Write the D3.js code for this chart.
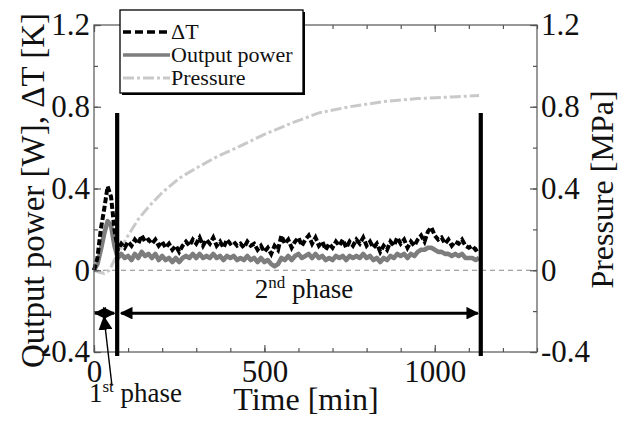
<!DOCTYPE html>
<html>
<head>
<meta charset="utf-8">
<script src="https://cdn.jsdelivr.net/npm/d3@7"></script>
<style>
  html, body { margin: 0; padding: 0; background: #fff; }
  svg { display: block; }
  text { font-family: "Liberation Serif", "Times New Roman", serif; fill: #111; }
</style>
</head>
<body>
<svg id="chart" width="621" height="425"></svg>
<script>
// Time axis: sampled every 10 min from 0 to 1130 min
const timeMin = d3.range(0, 1131, 10);

// Temperature difference ΔT [K]
const deltaT = [
  0.00, 0.06, 0.20, 0.30, 0.41, 0.36, 0.20, 0.10, 0.13, 0.11,
  0.14, 0.12, 0.15, 0.13, 0.17, 0.14, 0.15, 0.13, 0.15, 0.12,
  0.14, 0.11, 0.13, 0.10, 0.12, 0.09, 0.12, 0.14, 0.12, 0.15,
  0.13, 0.16, 0.12, 0.15, 0.13, 0.16, 0.12, 0.14, 0.11, 0.15,
  0.13, 0.14, 0.12, 0.13, 0.11, 0.14, 0.12, 0.13, 0.10, 0.12,
  0.09, 0.11, 0.08, 0.12, 0.10, 0.17, 0.13, 0.15, 0.11, 0.14,
  0.16, 0.12, 0.15, 0.17, 0.13, 0.16, 0.12, 0.14, 0.10, 0.13,
  0.11, 0.14, 0.12, 0.15, 0.11, 0.14, 0.12, 0.15, 0.13, 0.16,
  0.12, 0.14, 0.11, 0.13, 0.09, 0.12, 0.10, 0.14, 0.12, 0.16,
  0.13, 0.15, 0.11, 0.14, 0.12, 0.15, 0.17, 0.14, 0.19, 0.21,
  0.17, 0.15, 0.16, 0.13, 0.15, 0.12, 0.14, 0.13, 0.15, 0.12,
  0.11, 0.12, 0.10, 0.11
];

// Output power [W]
const outputPower = [
  0.00, 0.03, 0.10, 0.18, 0.24, 0.22, 0.12, 0.06, 0.08, 0.06,
  0.07, 0.05, 0.08, 0.06, 0.09, 0.07, 0.08, 0.06, 0.08, 0.05,
  0.07, 0.05, 0.06, 0.04, 0.06, 0.04, 0.06, 0.07, 0.06, 0.08,
  0.06, 0.08, 0.06, 0.07, 0.06, 0.08, 0.06, 0.07, 0.05, 0.07,
  0.06, 0.07, 0.05, 0.06, 0.05, 0.07, 0.05, 0.06, 0.04, 0.06,
  0.04, 0.05, 0.03, 0.02, 0.03, 0.06, 0.05, 0.07, 0.05, 0.07,
  0.08, 0.06, 0.07, 0.08, 0.06, 0.08, 0.06, 0.07, 0.05, 0.06,
  0.05, 0.07, 0.06, 0.07, 0.05, 0.07, 0.06, 0.07, 0.06, 0.08,
  0.06, 0.07, 0.05, 0.06, 0.04, 0.06, 0.05, 0.07, 0.06, 0.08,
  0.07, 0.08, 0.06, 0.08, 0.07, 0.09, 0.10, 0.10, 0.11, 0.11,
  0.10, 0.09, 0.09, 0.08, 0.08, 0.07, 0.08, 0.07, 0.08, 0.06,
  0.06, 0.06, 0.05, 0.06
];

// Pressure [MPa] (right axis)
const pressureTime = [0, 15, 30, 45, 60, 80, 100, 130, 160, 200, 250, 300, 360, 420, 500, 580, 660, 750, 850, 950, 1050, 1130];
const pressure     = [0.00, -0.01, -0.015, 0.00, 0.05, 0.11, 0.17, 0.25, 0.31, 0.38, 0.45, 0.50, 0.555, 0.60, 0.665, 0.72, 0.77, 0.80, 0.825, 0.84, 0.848, 0.855];

// Phase boundaries [min]
const phaseBounds = [0, 68, 1135];

// Axis ticks
const xMajorTicks = [0, 500, 1000];
const xMinorTicks = d3.range(0, 1301, 100);
const yMajorTicks = [-0.4, 0, 0.4, 0.8, 1.2];
const yMinorTicks = [-0.4, -0.2, 0, 0.2, 0.4, 0.6, 0.8, 1.0, 1.2];

const legendItems = ["ΔT", "Output power", "Pressure"];

const svg = d3.select("#chart");
const L = 94, R = 537, T = 25, B = 352;
const SERIF = "Liberation Serif, Times New Roman, serif";

const x = d3.scaleLinear().domain([0, 1300]).range([L, R]);
const y = d3.scaleLinear().domain([-0.4, 1.2]).range([B, T]);   // left axis
const y2 = d3.scaleLinear().domain([-0.4, 1.2]).range([B, T]);  // right axis (pressure)

const FRAME = "#555";
const styles = {
  dT:  { stroke: "#000", width: 4, dash: "6,2.5" },
  pow: { stroke: "#7d7d7d", width: 4.6, dash: null },
  pr:  { stroke: "#c9c9c9", width: 3, dash: "11,3,3,3" }
};

// Zero reference line
svg.append("line")
  .attr("x1", x(0)).attr("x2", x(1300))
  .attr("y1", y(0)).attr("y2", y(0))
  .attr("stroke", "#888").attr("stroke-width", 1).attr("stroke-dasharray", "5,4");

// Data lines
const line = (ys, sc, ts) => d3.line().x((d, i) => x(ts[i])).y(d => sc(d))(ys);

svg.append("path").attr("d", line(pressure, y2, pressureTime))
  .attr("fill", "none").attr("stroke", styles.pr.stroke)
  .attr("stroke-width", styles.pr.width).attr("stroke-dasharray", styles.pr.dash);

svg.append("path").attr("d", line(outputPower, y, timeMin))
  .attr("fill", "none").attr("stroke", styles.pow.stroke)
  .attr("stroke-width", styles.pow.width).attr("stroke-linejoin", "round");

svg.append("path").attr("d", line(deltaT, y, timeMin))
  .attr("fill", "none").attr("stroke", styles.dT.stroke)
  .attr("stroke-width", styles.dT.width).attr("stroke-dasharray", styles.dT.dash);

// Axes (ticks point inward)
const axG = svg.append("g");
function drawAxis(axis, tr) {
  const g = axG.append("g").attr("transform", tr).call(axis)
    .attr("font-family", SERIF).attr("font-size", 31);
  g.selectAll(".domain").remove();
  g.selectAll("line").attr("stroke", FRAME).attr("stroke-width", 1.2);
  g.selectAll("text").style("font-family", SERIF).style("font-size", "31px").attr("fill", "#111");
  return g;
}
const fmt = d => d === 0 ? "0" : d3.format(".1f")(d).replace("\u2212", "-");
drawAxis(d3.axisBottom(x).tickValues(xMinorTicks).tickSize(-4).tickFormat(""), `translate(0,${B})`);
drawAxis(d3.axisBottom(x).tickValues(xMajorTicks).tickSize(-7).tickPadding(8).tickFormat(d3.format("d")), `translate(0,${B})`);
drawAxis(d3.axisTop(x).tickValues(xMinorTicks).tickSize(-4).tickFormat(""), `translate(0,${T})`);
drawAxis(d3.axisTop(x).tickValues(xMajorTicks).tickSize(-7).tickFormat(""), `translate(0,${T})`);
drawAxis(d3.axisLeft(y).tickValues(yMinorTicks).tickSize(-4).tickFormat(""), `translate(${L},0)`);
drawAxis(d3.axisLeft(y).tickValues(yMajorTicks).tickSize(-7).tickPadding(4).tickFormat(fmt), `translate(${L},0)`);
drawAxis(d3.axisRight(y2).tickValues(yMinorTicks).tickSize(-4).tickFormat(""), `translate(${R},0)`);
drawAxis(d3.axisRight(y2).tickValues(yMajorTicks).tickSize(-7).tickPadding(4).tickFormat(fmt), `translate(${R},0)`);

// Frame
axG.append("rect").attr("x", L).attr("y", T).attr("width", R - L).attr("height", B - T)
  .attr("fill", "none").attr("stroke", FRAME).attr("stroke-width", 1.2);

// Axis titles
svg.append("text").attr("transform", `translate(44,${(T + B) / 2 + 2}) rotate(-90)`)
  .attr("text-anchor", "middle").style("font-size", "33px").text("Qutput power [W], ΔT [K]");
svg.append("text").attr("transform", `translate(613,${(T + B) / 2 + 1}) rotate(-90)`)
  .attr("text-anchor", "middle").style("font-size", "32px").text("Pressure [MPa]");
svg.append("text").attr("x", 306).attr("y", 410)
  .attr("text-anchor", "middle").style("font-size", "32px").text("Time [min]");

// Phase boundaries
svg.selectAll("line.phase").data(phaseBounds.slice(1)).enter().append("line")
  .attr("class", "phase")
  .attr("x1", d => x(d)).attr("x2", d => x(d))
  .attr("y1", y(0.77)).attr("y2", y(-0.42))
  .attr("stroke", "#000").attr("stroke-width", 4.2);

// Arrow markers
const defs = svg.append("defs");
defs.append("marker").attr("id", "head").attr("viewBox", "0 0 10 10")
  .attr("refX", 9).attr("refY", 5).attr("markerWidth", 4.2).attr("markerHeight", 4.2)
  .attr("markerUnits", "strokeWidth").attr("orient", "auto-start-reverse")
  .append("path").attr("d", "M0,0 L10,5 L0,10 Z").attr("fill", "#000");
defs.append("marker").attr("id", "headThin").attr("viewBox", "0 0 10 10")
  .attr("refX", 9).attr("refY", 5).attr("markerWidth", 10).attr("markerHeight", 10)
  .attr("markerUnits", "strokeWidth").attr("orient", "auto")
  .append("path").attr("d", "M0,0 L10,5 L0,10 Z").attr("fill", "#000");

const arrowY = y(-0.21);
// 2nd phase span
svg.append("line")
  .attr("x1", x(phaseBounds[1]) + 4).attr("x2", x(phaseBounds[2]) - 3)
  .attr("y1", arrowY).attr("y2", arrowY)
  .attr("stroke", "#000").attr("stroke-width", 3)
  .attr("marker-start", "url(#head)").attr("marker-end", "url(#head)");
// 1st phase span
svg.append("line")
  .attr("x1", x(phaseBounds[0]) + 1).attr("x2", x(phaseBounds[1]) - 3)
  .attr("y1", arrowY).attr("y2", arrowY)
  .attr("stroke", "#000").attr("stroke-width", 3)
  .attr("marker-start", "url(#head)").attr("marker-end", "url(#head)");
// Pointer from the 1st phase label
svg.append("line")
  .attr("x1", 112).attr("y1", 386).attr("x2", 104).attr("y2", arrowY + 4)
  .attr("stroke", "#000").attr("stroke-width", 1.4)
  .attr("marker-end", "url(#headThin)");

// Phase labels
const lbl2 = svg.append("text").attr("x", 304).attr("y", 298).attr("text-anchor", "middle").style("font-size", "27px");
lbl2.append("tspan").text("2");
lbl2.append("tspan").attr("dy", -10).style("font-size", "17px").text("nd");
lbl2.append("tspan").attr("dy", 10).text(" phase");

const lbl1 = svg.append("text").attr("x", 89).attr("y", 402).style("font-size", "27px");
lbl1.append("tspan").text("1");
lbl1.append("tspan").attr("dy", -10).style("font-size", "17px").text("st");
lbl1.append("tspan").attr("dy", 10).text(" phase");

// Legend
const lg = svg.append("g");
lg.append("rect").attr("x", 122).attr("y", 12).attr("width", 183).attr("height", 83).attr("fill", "#000");
lg.append("rect").attr("x", 120).attr("y", 10).attr("width", 183).attr("height", 83)
  .attr("fill", "#fff").attr("stroke", "#000").attr("stroke-width", 1.3);
const legStyles = [styles.dT, styles.pow, styles.pr];
legendItems.forEach((name, i) => {
  const ly = 32 + i * 23;
  const s = legStyles[i];
  lg.append("line").attr("x1", 123).attr("x2", 170).attr("y1", ly).attr("y2", ly)
    .attr("stroke", s.stroke).attr("stroke-width", Math.min(s.width, 3.6))
    .attr("stroke-dasharray", s === styles.dT ? "8,4" : s.dash);
  lg.append("text").attr("x", 171).attr("y", ly + 7).style("font-size", "22px").text(name);
});
</script>
</body>
</html>
